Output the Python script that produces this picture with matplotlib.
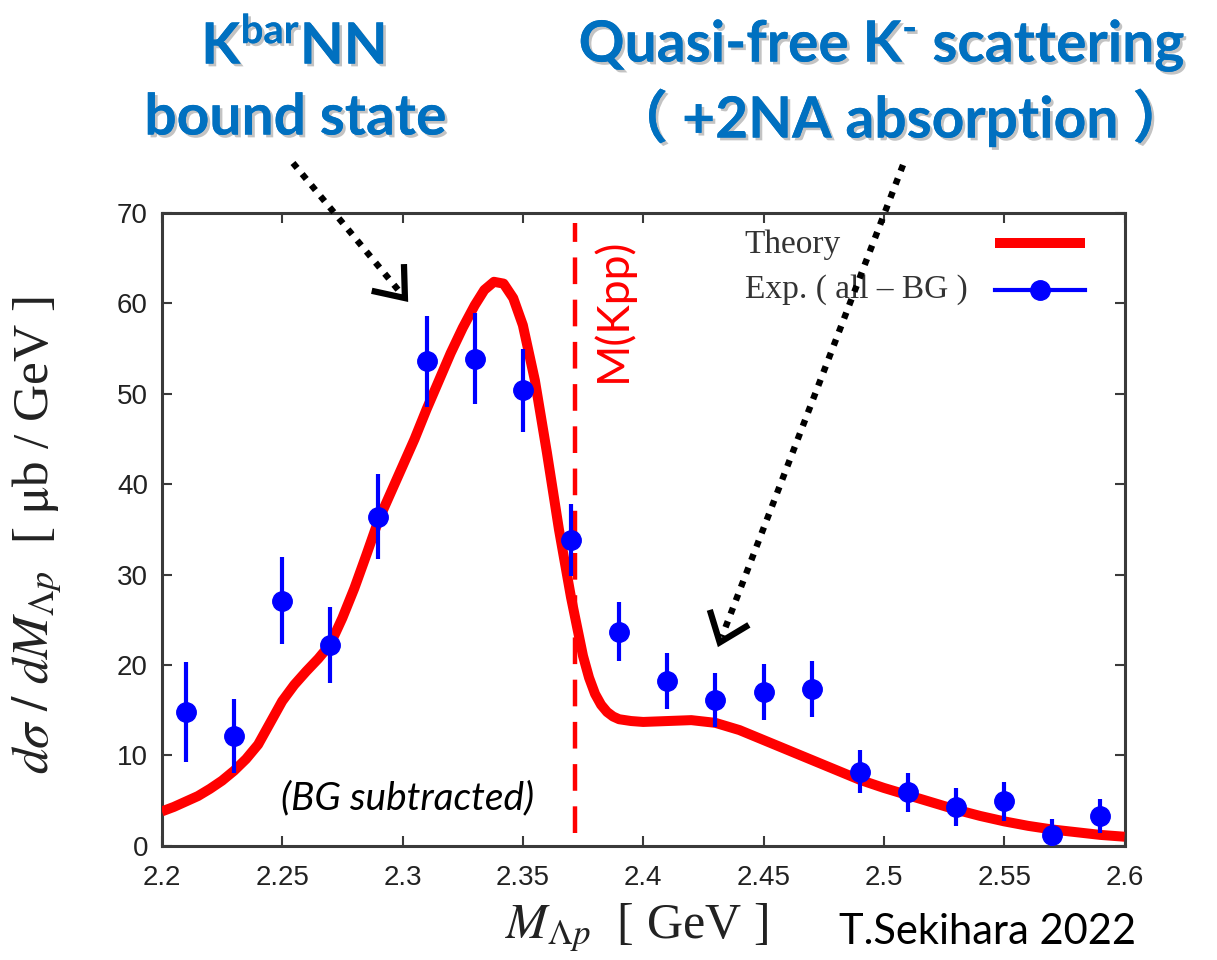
import numpy as np
import matplotlib
matplotlib.use("Agg")
import matplotlib.pyplot as plt
import matplotlib.patheffects as pe
from matplotlib.lines import Line2D

# --- Data ---
theory_x = [2.200, 2.205, 2.210, 2.215, 2.220, 2.225, 2.230, 2.235, 2.240, 2.245,
            2.250, 2.255, 2.260, 2.265, 2.270, 2.275, 2.280, 2.285, 2.290, 2.295,
            2.300, 2.305, 2.310, 2.315, 2.320, 2.325, 2.330, 2.334, 2.338, 2.342,
            2.346, 2.350, 2.355, 2.360, 2.365, 2.370, 2.375, 2.3775, 2.380, 2.3825,
            2.385, 2.3875, 2.390, 2.395, 2.400, 2.410, 2.420, 2.430, 2.440, 2.450,
            2.460, 2.470, 2.480, 2.490, 2.500, 2.510, 2.520, 2.530, 2.540, 2.550,
            2.560, 2.570, 2.580, 2.590, 2.600]
theory_y = [3.8, 4.3, 4.9, 5.5, 6.3, 7.2, 8.3, 9.6, 11.2, 13.6,
            16.0, 17.8, 19.3, 20.7, 22.3, 25.2, 28.5, 32.2, 36.0, 39.0,
            42.0, 45.0, 48.3, 51.4, 54.5, 57.3, 59.8, 61.5, 62.4, 62.2,
            60.6, 57.6, 51.5, 43.5, 35.0, 27.5, 21.0, 18.6, 16.8, 15.6,
            14.8, 14.3, 14.0, 13.8, 13.7, 13.8, 13.9, 13.6, 12.8, 11.7,
            10.6, 9.5, 8.4, 7.3, 6.4, 5.6, 4.8, 4.0, 3.3, 2.7,
            2.2, 1.8, 1.5, 1.2, 1.0]

exp_x = [2.21, 2.23, 2.25, 2.27, 2.29, 2.31, 2.33, 2.35, 2.37, 2.39,
         2.41, 2.43, 2.45, 2.47, 2.49, 2.51, 2.53, 2.55, 2.57, 2.59]
exp_y = [14.8, 12.1, 27.1, 22.2, 36.4, 53.6, 53.9, 50.4, 33.8, 23.7,
         18.2, 16.1, 17.0, 17.3, 8.2, 5.9, 4.3, 4.9, 1.2, 3.3]
exp_err = [5.5, 4.1, 4.8, 4.2, 4.7, 5.0, 5.0, 4.6, 4.0, 3.3,
           3.1, 3.0, 3.1, 3.1, 2.4, 2.2, 2.1, 2.2, 1.8, 1.9]

kpp_threshold = 2.3715

x_ticks = [2.2, 2.25, 2.3, 2.35, 2.4, 2.45, 2.5, 2.55, 2.6]
x_tick_labels = ["2.2", "2.25", "2.3", "2.35", "2.4", "2.45", "2.5", "2.55", "2.6"]
y_ticks = [0, 10, 20, 30, 40, 50, 60, 70]
legend_labels = ["Theory", "Exp. ( all \u2013 BG )"]

# --- Style ---
plt.rcParams["font.family"] = ["Liberation Sans", "DejaVu Sans"]
plt.rcParams["mathtext.fontset"] = "custom"
plt.rcParams["mathtext.rm"] = "Lato:bold"
plt.rcParams["mathtext.it"] = "Lato:bold:italic"
plt.rcParams["mathtext.bf"] = "Lato:bold"

RED = "#ff0000"
BLUE = "#0000ff"
NOTE_BLUE = "#0070c0"
FRAME = "#3a3a3a"

fig = plt.figure(figsize=(12.17, 9.6), dpi=100)
ax = fig.add_axes([0.133, 0.119, 0.791, 0.659])

ax.plot(theory_x, theory_y, color=RED, lw=7.2, solid_capstyle="butt",
        solid_joinstyle="round", zorder=3)
ax.errorbar(exp_x, exp_y, yerr=exp_err, fmt="o", color=BLUE, ms=14,
            elinewidth=3, capsize=0, zorder=4)
ax.axvline(kpp_threshold, ymin=0.02, ymax=0.985, color=RED, lw=3.2,
           ls=(0, (6, 3.5)), zorder=2)

ax.set_xlim(2.2, 2.6)
ax.set_ylim(0, 70)
ax.set_xticks(x_ticks)
ax.set_xticklabels(x_tick_labels)
ax.set_yticks(y_ticks)
ax.tick_params(direction="in", length=7, width=1.5, color=FRAME,
               top=True, right=True, labelsize=20, colors="#222222")
ax.tick_params(axis="x", pad=14)
ax.tick_params(axis="y", pad=10)
for s in ax.spines.values():
    s.set_color(FRAME)
    s.set_linewidth(2.2)

ax.set_ylabel(r"$d\sigma\ /\ dM_{\Lambda p}$  [ $\mathrm{\mu}$b / GeV ]",
              fontsize=37, family="Liberation Serif", math_fontfamily="stix",
              color="#222222")
ax.yaxis.set_label_coords(-0.102, 0.491)
ax.set_xlabel(r"$M_{\Lambda p}$  [ GeV ]", fontsize=36, family="Liberation Serif",
              math_fontfamily="stix", color="#222222")
ax.xaxis.set_label_coords(0.493, -0.088)

# legend: text on the left, sample on the right (gnuplot style)
leg_rows = [(0.950, Line2D([0.865, 0.9585], [0.9526, 0.9526], color=RED, lw=7.2,
                           solid_capstyle="butt", transform=ax.transAxes)),
            (0.879, Line2D([0.865, 0.9585], [0.879, 0.879], color=BLUE, lw=3,
                           marker="o", ms=14, markevery=[], transform=ax.transAxes))]
for (ty, handle), label in zip(leg_rows, legend_labels):
    ax.text(0.6054, ty, label, transform=ax.transAxes, fontsize=24,
            family="Liberation Serif", color="#333333", ha="left", va="center")
    ax.add_line(handle)
ax.plot([0.9117], [0.879], "o", color=BLUE, ms=14, transform=ax.transAxes)

ax.text(2.3873, 59.3, "M(Kpp)", rotation=90, color=RED, fontsize=32,
        family="Lato", ha="center", va="center")
ax.text(2.302, 5.2, "(BG subtracted)", fontsize=28, family="Lato",
        style="italic", ha="center", va="center")

shadow = [pe.withSimplePatchShadow(offset=(2, -2), shadow_rgbFace="#888888",
                                   alpha=0.5), pe.Normal()]
note_kw = dict(color=NOTE_BLUE, fontsize=41, family=["Lato", "Noto Sans CJK JP"],
               weight="bold", ha="center", va="center", path_effects=shadow)
fig.text(0.241, 0.952, r"K$^{\mathrm{bar}}$NN", **note_kw)
fig.text(0.243, 0.877, "bound state", **note_kw)
fig.text(0.725, 0.952, r"Quasi-free K$^{\text{-}}$ scattering", **note_kw)
fig.text(0.740, 0.877, "\uff08 +2NA absorption \uff09", **note_kw)

fig.text(0.689, 0.029, "T.Sekihara 2022", fontsize=30, family="Lato",
         ha="left", va="center")

# dotted arrows pointing from the notes into the plot
to_fig = fig.transFigure.inverted()
arrows = [((2.301, 60.6), (293, 960 - 163)),
          ((2.4318, 22.5), (903, 960 - 165))]
for tip, tail_px in arrows:
    tip_px = np.array(ax.transData.transform(tip))
    tail_px = np.array(tail_px, dtype=float)
    u = (tip_px - tail_px) / np.hypot(*(tip_px - tail_px))
    shaft = to_fig.transform([tail_px, tip_px - u * 6])
    fig.add_artist(Line2D(shaft[:, 0], shaft[:, 1], color="black", lw=4.6,
                          ls=(0, (1, 1.25)), dash_capstyle="butt", zorder=6))
    arms = []
    for ang in (np.radians(38), -np.radians(38)):
        rot = np.array([[np.cos(ang), -np.sin(ang)], [np.sin(ang), np.cos(ang)]])
        arms.append(tip_px - 34 * rot @ u)
    head = to_fig.transform([arms[0], tip_px, arms[1]])
    fig.add_artist(Line2D(head[:, 0], head[:, 1], color="black", lw=4.5,
                          solid_joinstyle="miter", solid_capstyle="butt", zorder=6))

fig.savefig("out.png", dpi=100)
